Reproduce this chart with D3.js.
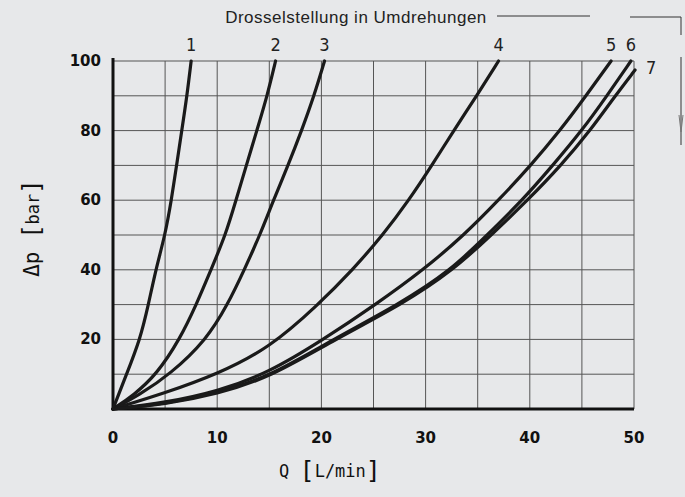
<!doctype html>
<html>
<head>
<meta charset="utf-8" />
<title>Drosselstellung</title>
<script src="https://cdn.jsdelivr.net/npm/d3@7"></script>
<style>
  html,body{margin:0;padding:0;background:#e7e8ea;}
  svg{display:block;}
</style>
</head>
<body>
<div id="chart"></div>
<script>
// values: Q [L/min] -> dp [bar]
var curve1 = [[0,0],[1.3,10],[2.6,20],[3.4,30],[4.1,40],[5,50],[5.6,60],[6.1,70],[6.6,80],[7.1,90],[7.5,100]];
var curve2 = [[0,0],[2,4],[4.2,10],[6.4,20],[8,30],[9.4,40],[10.8,50],[11.8,60],[12.8,70],[13.8,80],[14.8,90],[15.6,100]];
var curve3 = [[0,0],[2.5,4],[5.5,10],[9,20],[11,30],[12.6,40],[14.1,50],[15.4,60],[16.8,70],[18.1,80],[19.3,90],[20.3,100]];
var curve4 = [[0,0],[5,4.6],[10,10],[15,17.5],[19.7,30],[23,40],[25.9,50],[28.4,60],[30.6,70],[32.7,80],[34.9,90],[37,100]];
var curve5 = [[0,0],[5,1.8],[10,5],[15,10.5],[20.2,20],[25.2,30],[29.8,40],[33.7,50],[37,60],[40.1,70],[42.9,80],[45.4,90],[47.8,100]];
var curve6 = [[0,0],[5,1.5],[10,4.6],[15,9.3],[21.1,20],[27.4,30],[32.5,40],[35.9,50],[39.3,60],[42.2,70],[45,80],[47.4,90],[49.7,100]];
var curve7 = [[0,0],[5,1.3],[10,4.3],[15,9],[21.3,20],[27.7,30],[32.7,40],[36.3,50],[39.8,60],[43,70],[45.8,80],[48.2,90],[50.1,97.4]];
var curves = [curve1,curve2,curve3,curve4,curve5,curve6,curve7];
var curveNames = ["1","2","3","4","5","6","7"];
var xTicks = [0,10,20,30,40,50];
var yTicks = [20,40,60,80,100];
var title = "Drosselstellung in Umdrehungen";

var W = 685, H = 497;
var svg = d3.select("#chart").append("svg").attr("width",W).attr("height",H);

var x = d3.scaleLinear().domain([0,50]).range([113,634]);
var y = d3.scaleLinear().domain([0,100]).range([409,61]);

// grid
var grid = svg.append("g").attr("stroke","#555").attr("stroke-width",1);
grid.selectAll(".v").data(d3.range(5,51,5)).enter().append("line")
  .attr("x1",function(d){return x(d);}).attr("x2",function(d){return x(d);})
  .attr("y1",y(0)).attr("y2",y(100));
grid.selectAll(".h").data(d3.range(10,101,10)).enter().append("line")
  .attr("x1",x(0)).attr("x2",x(50))
  .attr("y1",function(d){return y(d);}).attr("y2",function(d){return y(d);});

// axes lines
svg.append("line").attr("x1",x(0)).attr("x2",x(0)).attr("y1",y(100)-3).attr("y2",y(0))
  .attr("stroke","#111").attr("stroke-width",3);
svg.append("line").attr("x1",x(0)).attr("x2",x(50)).attr("y1",y(0)).attr("y2",y(0))
  .attr("stroke","#111").attr("stroke-width",3);

// curves
var line = d3.line().x(function(d){return x(d[0]);}).y(function(d){return y(d[1]);})
  .curve(d3.curveBasis);
svg.append("g").selectAll("path").data(curves).enter().append("path")
  .attr("d",line).attr("fill","none").attr("stroke","#1a1a1a")
  .attr("stroke-width",3.2).attr("stroke-linecap","round");

// curve labels
svg.append("g").selectAll("text").data(curves).enter().append("text")
  .attr("x",function(d,i){var p=d[d.length-1]; return i==6 ? x(p[0])+16 : x(p[0]);})
  .attr("y",function(d,i){var p=d[d.length-1]; return i==6 ? y(p[1])+4 : y(p[1])-10;})
  .attr("text-anchor","middle")
  .attr("font-family","'Liberation Sans Narrow','DejaVu Sans Condensed',sans-serif")
  .attr("font-size",18).attr("fill","#222")
  .text(function(d,i){return curveNames[i];});

// tick labels
var tickFont = "'DejaVu Sans',sans-serif";
svg.append("g").selectAll("text").data(xTicks).enter().append("text")
  .attr("x",function(d){return x(d);}).attr("y",443)
  .attr("text-anchor","middle").attr("font-family",tickFont).attr("font-size",15)
  .attr("font-weight","bold").attr("fill","#111").text(function(d){return d;});
svg.append("g").selectAll("text").data(yTicks).enter().append("text")
  .attr("x",101).attr("y",function(d){return y(d)+5;})
  .attr("text-anchor","end").attr("font-family",tickFont).attr("font-size",15)
  .attr("font-weight","bold").attr("fill","#111").text(function(d){return d;});

// axis titles
var xt = svg.append("text").attr("x",330).attr("y",477).attr("text-anchor","middle")
  .attr("font-family","'DejaVu Sans Mono',monospace").attr("font-size",17).attr("fill","#111");
xt.append("tspan").text("Q  ");
xt.append("tspan").attr("font-size",25).attr("dy",2).text("[");
xt.append("tspan").attr("dy",-2).text("L/min");
xt.append("tspan").attr("font-size",25).attr("dy",2).text("]");

var yt = svg.append("text").attr("transform","translate(39,228) rotate(-90)")
  .attr("text-anchor","middle")
  .attr("font-family","'DejaVu Sans Mono',monospace").attr("font-size",17).attr("fill","#111");
yt.append("tspan").attr("font-size",21).text("\u0394p  ");
yt.append("tspan").attr("font-size",24).attr("dy",1).text("[");
yt.append("tspan").attr("dy",-1).text("bar");
yt.append("tspan").attr("font-size",24).attr("dy",1).text("]");

// title with leader line
svg.append("text").attr("x",356).attr("y",23).attr("text-anchor","middle")
  .attr("font-family","'Liberation Sans',Arial,sans-serif").attr("font-size",17)
  .attr("letter-spacing",0.5).attr("fill","#222").text(title);
var lead = svg.append("g").attr("stroke","#333").attr("stroke-width",1).attr("fill","none");
lead.append("line").attr("x1",497).attr("x2",590).attr("y1",16).attr("y2",16);
lead.append("polyline").attr("points","630,17 681,17 681,35");
lead.append("line").attr("x1",681).attr("x2",681).attr("y1",57).attr("y2",145);
lead.append("path").attr("d","M679,115 L681,132 L683,115").attr("stroke","#777");
</script>
</body>
</html>
